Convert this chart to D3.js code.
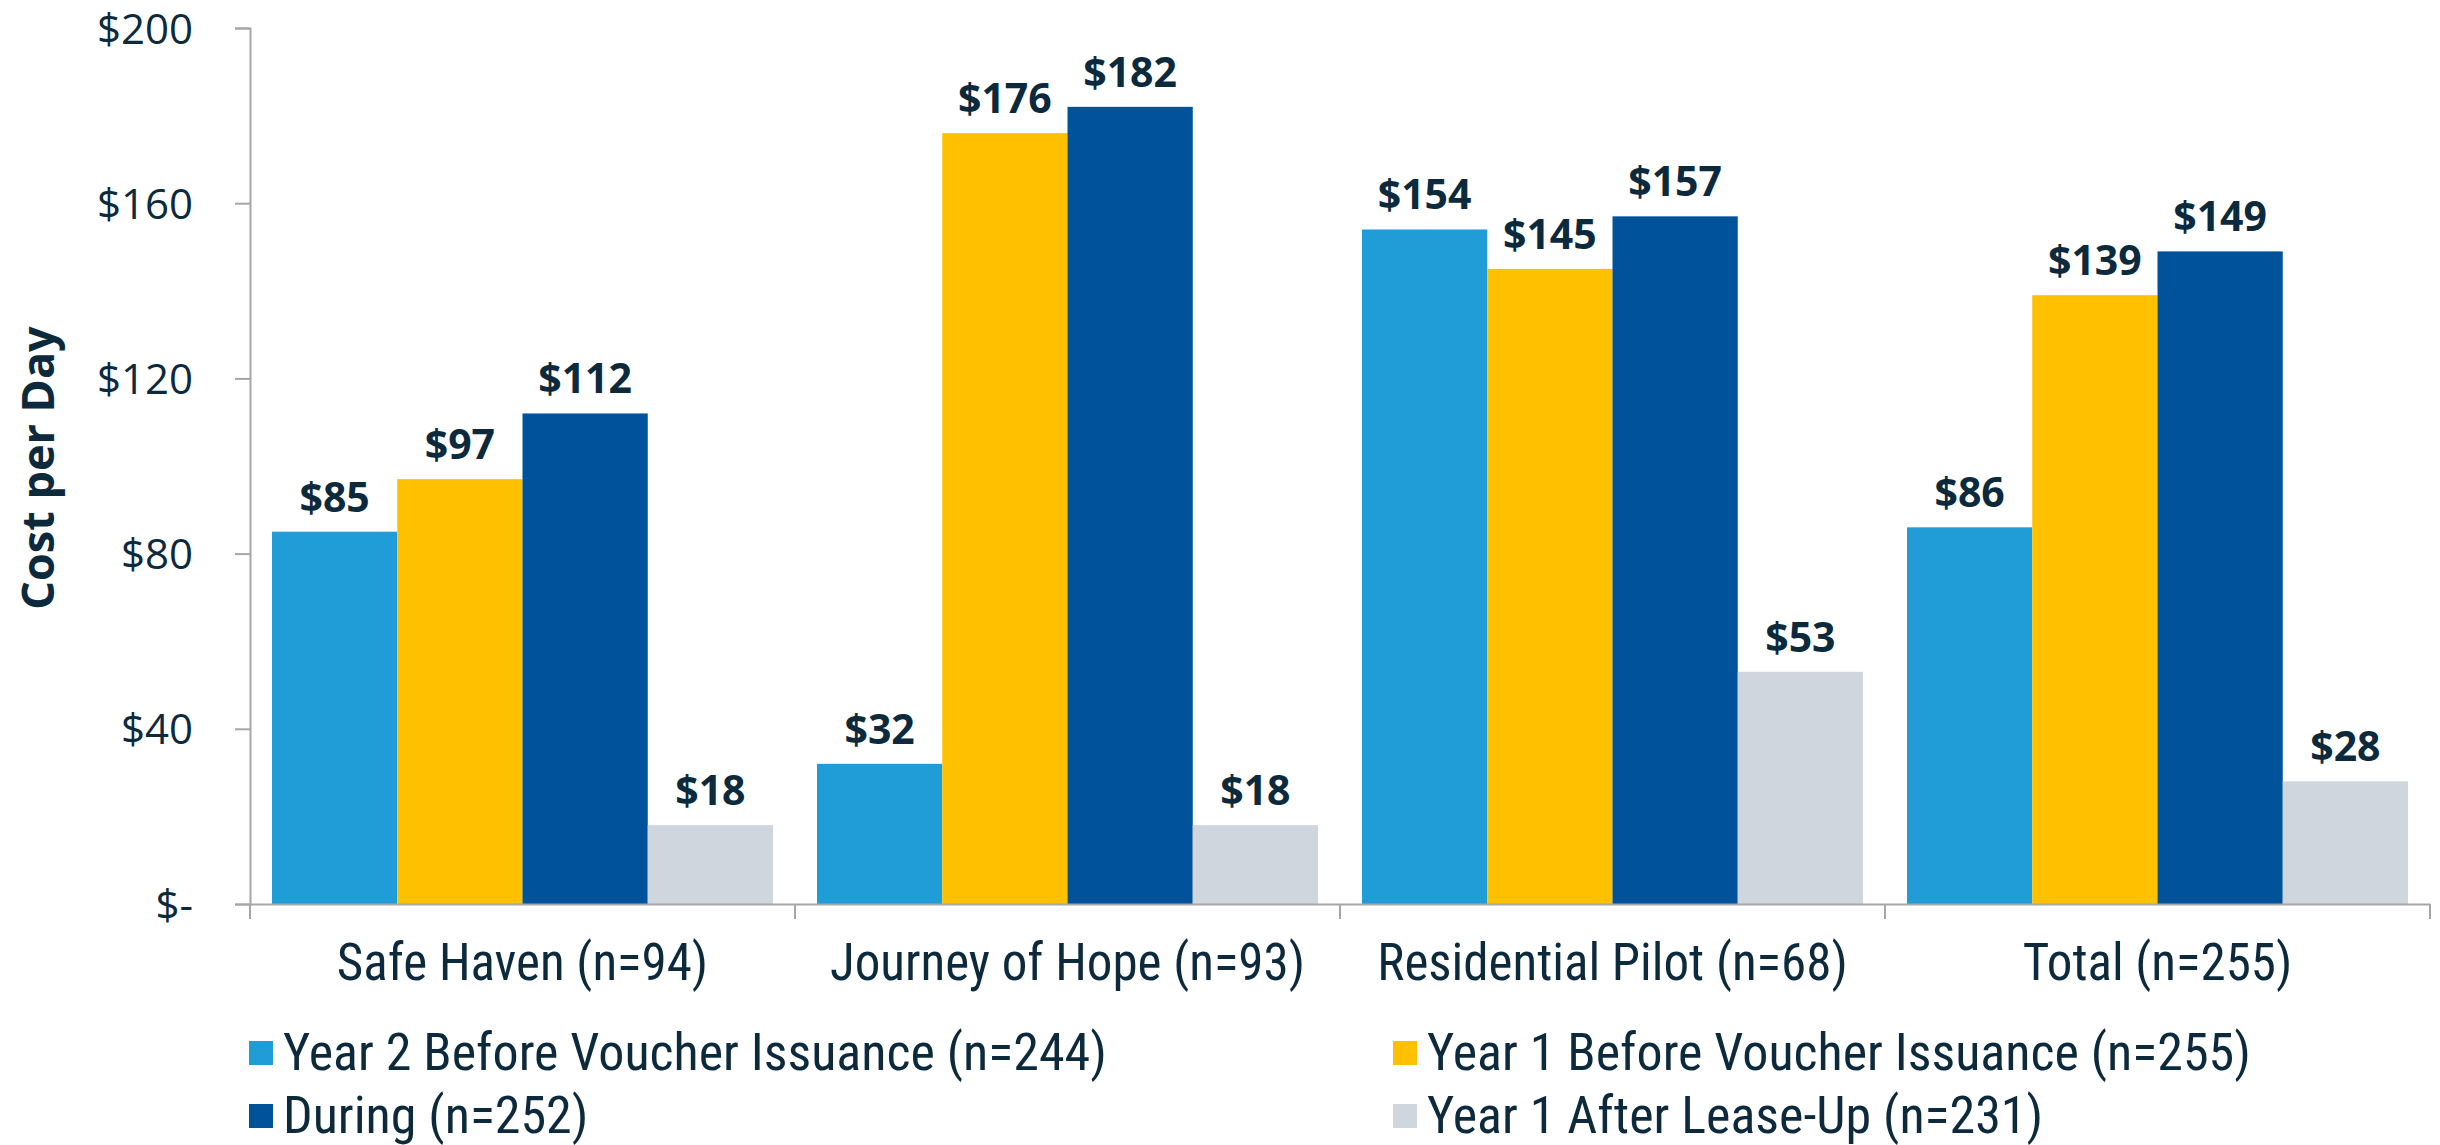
<!DOCTYPE html>
<html>
<head>
<meta charset="utf-8">
<script src="https://cdn.jsdelivr.net/npm/d3@7"></script>
<style>
  body { margin: 0; background: #fff; }
  text { fill: #0d2a3d; }
</style>
</head>
<body>
<div id="container"></div>
<script>
const categories = ['Safe Haven (n=94)', 'Journey of Hope (n=93)', 'Residential Pilot (n=68)', 'Total (n=255)']
const seriesNames = [
    'Year 2 Before Voucher Issuance (n=244)',
    'Year 1 Before Voucher Issuance (n=255)',
    'During (n=252)',
    'Year 1 After Lease-Up (n=231)'
]
const year2Before = [85, 32, 154, 86]
const year1Before = [97, 176, 145, 139]
const during = [112, 182, 157, 149]
const afterLease = [18, 18, 53, 28]
const yTicks = [0, 40, 80, 120, 160, 200]
const colors = ['#209cd6', '#ffc000', '#00529b', '#cfd6de']

const width = 2440
const height = 1145
const margin = { top: 28, right: 10, bottom: 241, left: 250 }

const svg = d3.select('#container').append('svg')
    .attr('width', width).attr('height', height)

const series = [year2Before, year1Before, during, afterLease]
const dataset = categories.map((c, i) => ({
    cat: c,
    values: series.map((s, j) => ({ key: seriesNames[j], value: s[i] }))
}))

const x0 = d3.scaleBand()
    .domain(categories)
    .range([margin.left, width - margin.right])

const x1 = d3.scaleBand()
    .domain(seriesNames)
    .range([22, x0.bandwidth() - 22])

const yScale = d3.scaleLinear()
    .domain([0, 200])
    .range([height - margin.bottom, margin.top])

const color = d3.scaleOrdinal().domain(seriesNames).range(colors)

const condensed = '"Roboto Condensed", "Liberation Sans Narrow", sans-serif'
const labelFont = '"Open Sans", "Noto Sans", sans-serif'

// bars
const groups = svg.selectAll('g.group').data(dataset).enter().append('g')
    .attr('class', 'group')
    .attr('transform', d => `translate(${x0(d.cat)},0)`)

groups.selectAll('rect').data(d => d.values).enter().append('rect')
    .attr('x', d => x1(d.key))
    .attr('y', d => yScale(d.value))
    .attr('width', x1.bandwidth())
    .attr('height', d => yScale(0) - yScale(d.value))
    .attr('fill', d => color(d.key))

// value labels
groups.selectAll('text.val').data(d => d.values).enter().append('text')
    .attr('class', 'val')
    .attr('x', d => x1(d.key) + x1.bandwidth() / 2)
    .attr('y', d => yScale(d.value) - 20)
    .attr('text-anchor', 'middle')
    .style('font-family', labelFont)
    .style('font-weight', 'bold')
    .style('font-size', '41px')
    .text(d => '$' + d.value)

// y axis
const yAxis = d3.axisLeft(yScale)
    .tickValues(yTicks)
    .tickSize(15)
    .tickPadding(42)
    .tickFormat(d => d === 0 ? '$-' : '$' + d)
const gy = svg.append('g')
    .attr('id', 'y-axis')
    .attr('transform', `translate(${margin.left}, 0)`)
    .call(yAxis)
gy.select('.domain').attr('stroke', '#a6a6a6').attr('stroke-width', 2)
gy.selectAll('.tick line').attr('stroke', '#a6a6a6').attr('stroke-width', 2)
gy.selectAll('.tick text')
    .style('font-family', labelFont)
    .style('font-size', '42px')
    .attr('dy', '0.36em')
    .attr('fill', '#0d2a3d')

// x axis
const xAxis = d3.axisBottom(x0).tickSize(0).tickPadding(40)
const gx = svg.append('g')
    .attr('id', 'x-axis')
    .attr('transform', `translate(0, ${yScale(0)})`)
    .call(xAxis)
gx.select('.domain').attr('stroke', '#a6a6a6').attr('stroke-width', 2)
gx.selectAll('.tick text')
    .style('font-family', condensed)
    .style('font-size', '51px')
    .attr('fill', '#0d2a3d')

// category separators
const bounds = categories.map(c => x0(c)).concat([width - margin.right])
gx.selectAll('line.sep').data(bounds).enter().append('line')
    .attr('class', 'sep')
    .attr('x1', d => d).attr('x2', d => d)
    .attr('y1', 0).attr('y2', 15)
    .attr('stroke', '#a6a6a6').attr('stroke-width', 2)

// y title
svg.append('text')
    .attr('transform', `translate(54, ${yScale(100) + 2}) rotate(-90)`)
    .attr('text-anchor', 'middle')
    .style('font-family', labelFont)
    .style('font-weight', 'bold')
    .style('font-size', '45px')
    .text('Cost per Day')

// legend
const legendPos = [[249, 1053], [1393, 1053], [249, 1116], [1393, 1116]]
const legend = svg.selectAll('g.legend').data(seriesNames).enter().append('g')
    .attr('class', 'legend')
    .attr('transform', (d, i) => `translate(${legendPos[i][0]}, ${legendPos[i][1]})`)
legend.append('rect')
    .attr('x', 0).attr('y', -12).attr('width', 24).attr('height', 24)
    .attr('fill', d => color(d))
legend.append('text')
    .attr('x', 34).attr('y', 17)
    .style('font-family', condensed)
    .style('font-size', '52px')
    .text(d => d)
</script>
</body>
</html>
